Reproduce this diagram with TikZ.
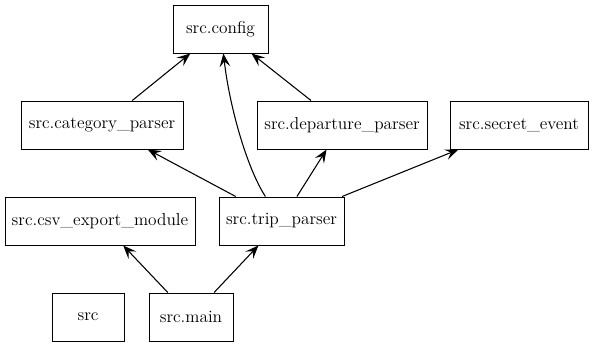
\documentclass[tikz,border=0pt]{standalone}
\usetikzlibrary{arrows.meta}

\begin{document}
\begin{tikzpicture}[x=0.75pt,y=-0.75pt,
 mod/.style={draw, line width=0.75pt, minimum height=36pt, minimum width=#1,
    inner xsep=1pt, font=\rmfamily\fontsize{13}{16}\selectfont},
 mod/.default=54pt,
 dep/.style={line width=0.8pt, -{Stealth[length=10pt,width=8pt,inset=4pt]}}]

    \useasboundingbox (0,0) rectangle (593,347);

    % modules
    \node[mod=71.25pt] (config) at (220.5,29) {src.config};
    \node[mod=121.5pt] (cat) at (102,125) {src.category\_parser};
    \node[mod=127.5pt] (dep) at (342,125) {src.departure\_parser};
    \node[mod=103.5pt] (secret) at (519,125) {src.secret\_event};
    \node[mod=142.5pt] (csv) at (100,221) {src.csv\_export\_module};
    \node[mod=93.75pt] (trip) at (281.5,221) {src.trip\_parser};
    \node[mod] (src) at (88,317) {src};
    \node[mod=63pt] (main) at (191,317) {src.main};

    % imports
    \draw[dep] (cat) -- (config);
    \draw[dep] (dep) -- (config);
    \draw[dep] (trip) .. controls (248,170) and (230,110) .. (config);
    \draw[dep] (trip) -- (cat);
    \draw[dep] (trip) -- (dep);
    \draw[dep] (trip) -- (secret);
    \draw[dep] (main) -- (csv);
    \draw[dep] (main) -- (trip);

\end{tikzpicture}
\end{document}
